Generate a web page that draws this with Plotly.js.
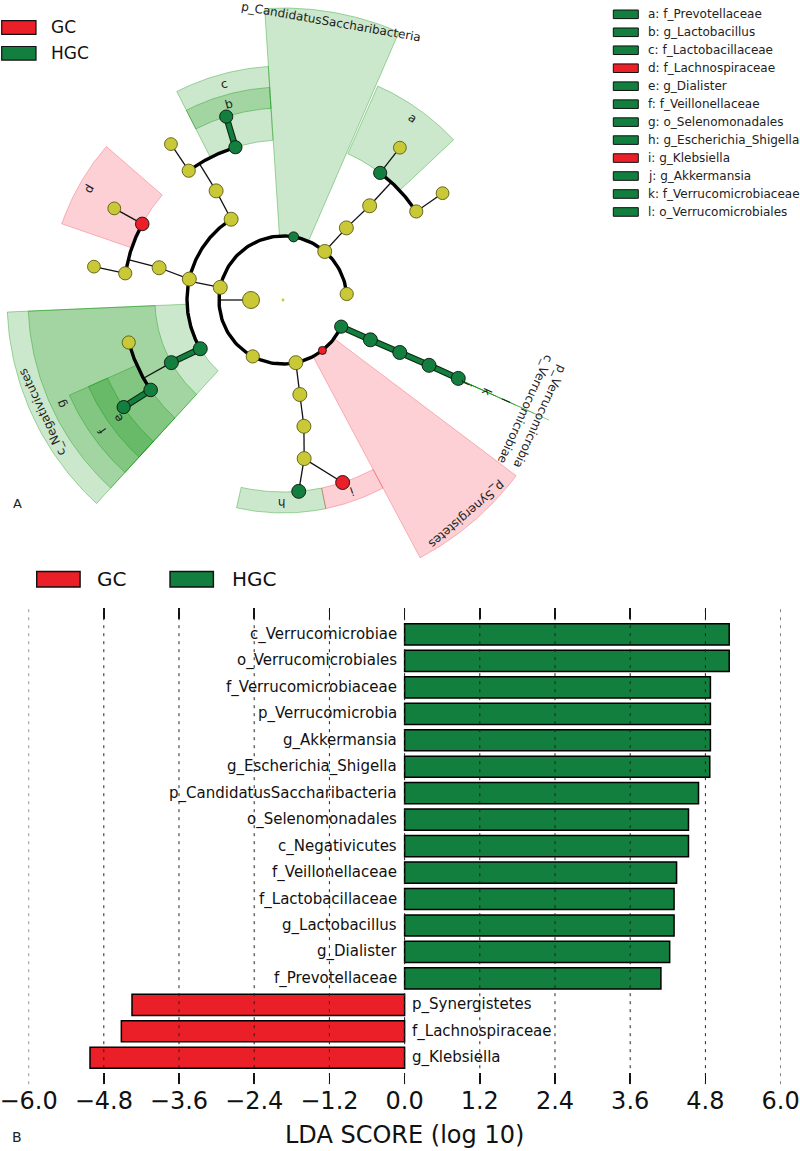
<!DOCTYPE html>
<html><head><meta charset="utf-8">
<script src="https://cdn.plot.ly/plotly-3.0.1.min.js"></script>
<style>html,body{margin:0;padding:0;background:#fff}#chart{width:800px;height:1151px}</style>
</head><body><div id="chart"></div>
<script>
// ================= DATA =================
// LDA bar chart (panel B)
const ldaTaxa = ['c_Verrucomicrobiae','o_Verrucomicrobiales','f_Verrucomicrobiaceae','p_Verrucomicrobia',
  'g_Akkermansia','g_Escherichia_Shigella','p_CandidatusSaccharibacteria','o_Selenomonadales','c_Negativicutes',
  'f_Veillonellaceae','f_Lactobacillaceae','g_Lactobacillus','g_Dialister','f_Prevotellaceae',
  'p_Synergistetes','f_Lachnospiraceae','g_Klebsiella'];
const ldaScores = [5.18, 5.18, 4.88, 4.88, 4.88, 4.87, 4.69, 4.53, 4.53, 4.34, 4.30, 4.30, 4.23, 4.09, -4.35, -4.52, -5.02];
const ldaGroups = ['HGC','HGC','HGC','HGC','HGC','HGC','HGC','HGC','HGC','HGC','HGC','HGC','HGC','HGC','GC','GC','GC'];
const groupNames = ['GC','HGC'];
const ldaTicks = [-6.0,-4.8,-3.6,-2.4,-1.2,0.0,1.2,2.4,3.6,4.8,6.0];
const ldaAxisTitle = 'LDA SCORE (log 10)';

// Cladogram (panel A): taxonomy tree, level 0=root ... 6=genus, angle in degrees
const cladeNames = ['root','k_Bacteria',
  'p_Fusobacteria','p_Bacteroidetes','p_CandidatusSaccharibacteria','p_Firmicutes','p_Actinobacteria','p_Proteobacteria','p_Synergistetes','p_Verrucomicrobia',
  'c_Bacteroidia','c_Bacilli','c_Clostridia','c_Negativicutes','c_Gammaproteobacteria','c_Verrucomicrobiae',
  'o_Bacteroidales','o_Lactobacillales','o_Clostridiales','o_Selenomonadales','o_Enterobacteriales','o_Verrucomicrobiales',
  'f_Rikenellaceae','f_Prevotellaceae','f_Lactobacillaceae','f_Streptococcaceae','f_Lachnospiraceae','f_Ruminococcaceae','f_Acidaminococcaceae','f_Veillonellaceae','f_Enterobacteriaceae','f_Verrucomicrobiaceae',
  'g_Alistipes','g_Prevotella','g_Lactobacillus','g_Streptococcus','g_Blautia','g_Faecalibacterium','g_Dialister','g_Escherichia_Shigella','g_Klebsiella','g_Akkermansia'];
const cladeLevel = [0,1, 2,2,2,2,2,2,2,2, 3,3,3,3,3,3, 4,4,4,4,4,4, 5,5,5,5,5,5,5,5,5,5, 6,6,6,6,6,6,6,6,6,6];
const cladeAngle = [0,180, 5.4,49.3,80.5,168.6,241.8,281.6,308,335.4,
  48.7,122.7,167.4,210.5,280.1,335.5,
  47.4,121.5,165.4,209.3,279.4,335.8,
  33.6,52.6,107.3,126.1,151.6,170.4,195.4,214.2,277.6,335.9,
  33.8,52.5,107.2,125.7,151.5,170,213.9,274.7,288.1,335.9];
const cladeParent = [-1,-1, 1,1,1,1,1,1,1,1, 3,5,5,5,7,9, 10,11,12,13,14,15, 16,16,17,17,18,18,19,19,20,21, 22,23,24,25,26,27,29,30,30,31];
const cladeGroup = ['','', '','','HGC','','','','GC','HGC', '','','','HGC','','HGC', '','','','HGC','','HGC',
  '','HGC','HGC','','GC','','','HGC','','HGC', '','','HGC','','','','HGC','HGC','GC','HGC'];
const cladeLogAbund = [-0.8,2.75, 1.8,2,1,2,1.8,2,0.5,1.8, 2,2,2,2,2,2, 2,2,2,2,2,2,
  1.8,1.8,1.8,1.8,1.9,1.8,1.8,1.9,2,2, 1.7,1.7,1.8,1.7,1.7,1.7,1.8,2,2,2];

// highlighted (biomarker) clades: angular span of the shaded sector and short label
const hlClade = ['p_CandidatusSaccharibacteria','f_Prevotellaceae','g_Lactobacillus','f_Lactobacillaceae','f_Lachnospiraceae',
  'c_Negativicutes','o_Selenomonadales','f_Veillonellaceae','g_Dialister','g_Escherichia_Shigella','g_Klebsiella','p_Synergistetes',
  'p_Verrucomicrobia','c_Verrucomicrobiae','o_Verrucomicrobiales','f_Verrucomicrobiaceae','g_Akkermansia'];
const hlStart = [66.6,43.2,93.6,93.6,139, 182.5,182.5,204,204,257.4,281.6,298, 335.7,335.7,335.7,335.7,335.7];
const hlEnd   = [93.6,66.1,117,117,161, 227.5,227.5,227.5,227.5,281.6,298,323, 335.7,335.7,335.7,335.7,335.7];
const hlLetter = ['','a','b','c','d', '','g','f','e','h','i','', '','','l','k','j'];

// ================= STYLE =================
const W = 800, H = 1151;
const FONT = 'DejaVu Sans, Verdana, sans-serif';
const GROUP_COLOR = {GC:'rgb(234,31,39)', HGC:'rgb(18,127,62)'};
const SECTOR_FILL = {GC:'rgba(240,40,60,0.22)', HGC:'rgba(0,140,0,0.2)'};
const SECTOR_EDGE = {GC:'rgba(240,40,60,0.30)', HGC:'rgba(0,140,0,0.35)'};
const NODE_YELLOW = 'rgb(201,201,56)';
const RING = 32;
const OUTER = {2:292, 3:276, 4:255, 5:234, 6:213};
const LABEL_R = {2:282, 3:265.5, 4:244.5, 5:223.5, 6:203};
const px = p => p / W, py = p => 1 - p / H;

function pol(r, deg){ const t = deg*Math.PI/180; return [r*Math.cos(t), r*Math.sin(t)]; }
function arcPts(r, a0, a1, n){ const o=[]; for(let k=0;k<=n;k++){ o.push(pol(r, a0+(a1-a0)*k/n)); } return o; }
function norm180(a){ while(a>180) a-=360; while(a<=-180) a+=360; return a; }

const traces = [], shapes = [], annotations = [];

// ================= PANEL A: cladogram =================
const CL = {xaxis:'x2', yaxis:'y2', hoverinfo:'skip', showlegend:false};
const cIdx = n => cladeNames.indexOf(n);

// shaded sectors
hlClade.forEach((name, k) => {
  const i = cIdx(name), L = cladeLevel[i], g = cladeGroup[i];
  const rIn = RING*L, rOut = OUTER[L], a0 = hlStart[k], a1 = hlEnd[k];
  let pts, fill = 'toself';
  if (a1 > a0) { pts = arcPts(rOut, a0, a1, 60).concat(arcPts(rIn, a1, a0, 60)); pts.push(pts[0]); }
  else { pts = [pol(rIn, a0), pol(rOut, a0)]; fill = 'none'; }
  traces.push(Object.assign({type:'scatter', mode:'lines', x:pts.map(p=>p[0]), y:pts.map(p=>p[1]),
    fill, fillcolor:SECTOR_FILL[g], line:{color: fill==='none' ? 'rgba(0,150,0,0.45)' : SECTOR_EDGE[g], width:1}}, CL));
});

// branches
const thin = {x:[],y:[]}, thick = {x:[],y:[]}, sig = {GC:{x:[],y:[]}, HGC:{x:[],y:[]}};
function push(buf, pts){ pts.forEach(p=>{buf.x.push(p[0]); buf.y.push(p[1]);}); buf.x.push(null); buf.y.push(null); }
const children = cladeNames.map(()=>[]);
cladeParent.forEach((p,i)=>{ if(p>=0) children[p].push(i); });
const rOf = i => RING*cladeLevel[i];
children.forEach((ch, p) => {
  if (!ch.length) return;
  const P = pol(rOf(p), cladeAngle[p]);
  const straight = ch.length === 1 || ch.every(c => cladeLevel[c] === 6);
  if (straight) {
    ch.forEach(c => {
      const C = pol(rOf(c), cladeAngle[c]);
      const g = cladeGroup[p];
      if (g && g === cladeGroup[c]) push(sig[g], [P, C]); else push(thin, [P, C]);
    });
  } else {
    const rc = rOf(ch[0]);
    push(thin, [P, pol(rc, cladeAngle[p])]);
    const angs = ch.map(c => cladeAngle[c]);
    push(thick, arcPts(rc, Math.min(...angs), Math.max(...angs), 160));
  }
});
traces.push(Object.assign({type:'scatter', mode:'lines', x:thin.x, y:thin.y, line:{color:'#111', width:1.3}}, CL));
traces.push(Object.assign({type:'scatter', mode:'lines', x:thick.x, y:thick.y, line:{color:'#000', width:3.4}}, CL));
groupNames.forEach(g => {
  traces.push(Object.assign({type:'scatter', mode:'lines', x:sig[g].x, y:sig[g].y, line:{color:'#0a2a12', width:6.6}}, CL));
  traces.push(Object.assign({type:'scatter', mode:'lines', x:sig[g].x, y:sig[g].y, line:{color:GROUP_COLOR[g], width:4.4}}, CL));
});

// nodes
const nodeXY = cladeNames.map((_,i)=>pol(rOf(i), cladeAngle[i]));
traces.push(Object.assign({type:'scatter', mode:'markers', x:nodeXY.map(p=>p[0]), y:nodeXY.map(p=>p[1]),
  marker:{size: cladeLogAbund.map(v=>6+4*v), opacity:1,
          color: cladeGroup.map(g => g ? GROUP_COLOR[g] : NODE_YELLOW),
          line:{color: cladeGroup.map(g => g ? '#111' : 'rgb(90,90,20)'), width: cladeLevel.map(l => l===0 ? 0 : 0.9)}}}, CL));

// sector labels
hlClade.forEach((name, k) => {
  const i = cIdx(name), L = cladeLevel[i];
  const mid = (hlStart[k] + hlEnd[k]) / 2;
  const p = pol(LABEL_R[L], mid);
  annotations.push({xref:'x2', yref:'y2', x:p[0], y:p[1], text: hlLetter[k] || name, textangle: norm180(90 - mid),
    showarrow:false, xanchor:'center', yanchor:'middle', borderpad:0, font:{family:FONT, size:12, color:'#222'}});
});

// legends of panel A
const legA = [['GC',27.5],['HGC',53.3]];
legA.forEach(([g, yc]) => {
  shapes.push({type:'rect', xref:'paper', yref:'paper', x0:px(1.7), x1:px(36), y0:py(yc-6.8), y1:py(yc+6.8),
    fillcolor:GROUP_COLOR[g], line:{color:'#111', width:1.2}});
  annotations.push({xref:'paper', yref:'paper', x:px(49), y:py(yc), text:g, showarrow:false, xanchor:'left', yanchor:'middle',
    font:{family:FONT, size:17, color:'#111'}});
});
const legItems = hlClade.map((n,k)=>({n, l:hlLetter[k], g:cladeGroup[cIdx(n)]})).filter(d=>d.l).sort((a,b)=>a.l<b.l?-1:1);
legItems.forEach((d, j) => {
  const yc = 14.3 + 17.97*j;
  shapes.push({type:'rect', xref:'paper', yref:'paper', x0:px(613.3), x1:px(638.3), y0:py(yc-4.3), y1:py(yc+4.3),
    fillcolor:GROUP_COLOR[d.g], line:{color:'#111', width:1}});
  annotations.push({xref:'paper', yref:'paper', x:px(646), y:py(yc), text:d.l+': '+d.n, showarrow:false, xanchor:'left', yanchor:'middle',
    font:{family:FONT, size:12, color:'#222'}});
});
annotations.push({xref:'paper', yref:'paper', x:px(11), y:py(503), text:'A', showarrow:false, xanchor:'left', yanchor:'middle',
  font:{family:FONT, size:13, color:'#222'}});

// ================= PANEL B: LDA bars =================
const allIdx = ldaTaxa.map((_,i)=>i);
groupNames.forEach(g => {
  const sel = allIdx.filter(i => ldaGroups[i] === g);
  traces.push({type:'bar', orientation:'h', name:g, x: sel.map(i=>ldaScores[i]), y: sel, width:0.8,
    marker:{color:GROUP_COLOR[g], line:{color:'#000', width:1.5}}, xaxis:'x', yaxis:'y', hoverinfo:'skip', showlegend:false});
});
ldaTaxa.forEach((t, i) => {
  const pos = ldaScores[i] >= 0;
  annotations.push({xref:'x', yref:'y', x:0, y:i, text:t, showarrow:false, xanchor: pos ? 'right':'left', yanchor:'middle',
    xshift: pos ? -6 : 5, font:{family:FONT, size:15, color:'#111'}});
});
ldaTicks.forEach(v => {
  shapes.push({type:'line', xref:'x', yref:'y domain', x0:v, x1:v, y0:0, y1:1, layer:'above',
    line:{color:'#222', width:1, dash:'3px,5px'}});
});
annotations.push({xref:'x', yref:'paper', x:0, y:py(1135), text:ldaAxisTitle, showarrow:false, xanchor:'center', yanchor:'middle',
  borderpad:0, font:{family:FONT, size:24, color:'#111'}});
annotations.push({xref:'paper', yref:'paper', x:px(10), y:py(1137), text:'B', showarrow:false, xanchor:'left', yanchor:'middle',
  font:{family:FONT, size:14, color:'#222'}});
// legend of panel B
[['GC',36.7,97],['HGC',170,232]].forEach(([g, bx, tx]) => {
  shapes.push({type:'rect', xref:'paper', yref:'paper', x0:px(bx), x1:px(bx+43.4), y0:py(587), y1:py(571.5),
    fillcolor:GROUP_COLOR[g], line:{color:'#111', width:1.4}});
  annotations.push({xref:'paper', yref:'paper', x:px(tx-2), y:py(579), text:g, showarrow:false, xanchor:'left', yanchor:'middle',
    font:{family:FONT, size:20, color:'#111'}});
});

// ================= LAYOUT =================
const layout = {
  width: W, height: H, margin:{l:0,r:0,t:0,b:0}, paper_bgcolor:'#fff', plot_bgcolor:'rgba(0,0,0,0)',
  barmode:'overlay', showlegend:false,
  xaxis:{domain:[px(28.6), px(780.6)], range:[-6,6], anchor:'y', tickmode:'array', tickvals:ldaTicks, tickformat:'.1f',
    showgrid:false, zeroline:false, showline:false, ticks:'inside', ticklen:11, tickwidth:1.5, tickcolor:'#111', mirror:'ticks',
    ticklabeloverflow:'allow', tickfont:{family:FONT, size:24, color:'#111'}, fixedrange:true},
  yaxis:{domain:[py(1084.2), py(608)], range:[17,-1], anchor:'x', visible:false, fixedrange:true},
  xaxis2:{domain:[0,1], range:[-283, 517], anchor:'y2', visible:false, fixedrange:true},
  yaxis2:{domain:[py(560), 1], range:[-260, 300], anchor:'x2', visible:false, fixedrange:true},
  shapes, annotations
};
Plotly.newPlot('chart', traces, layout, {staticPlot:true, displayModeBar:false});
</script></body></html>
